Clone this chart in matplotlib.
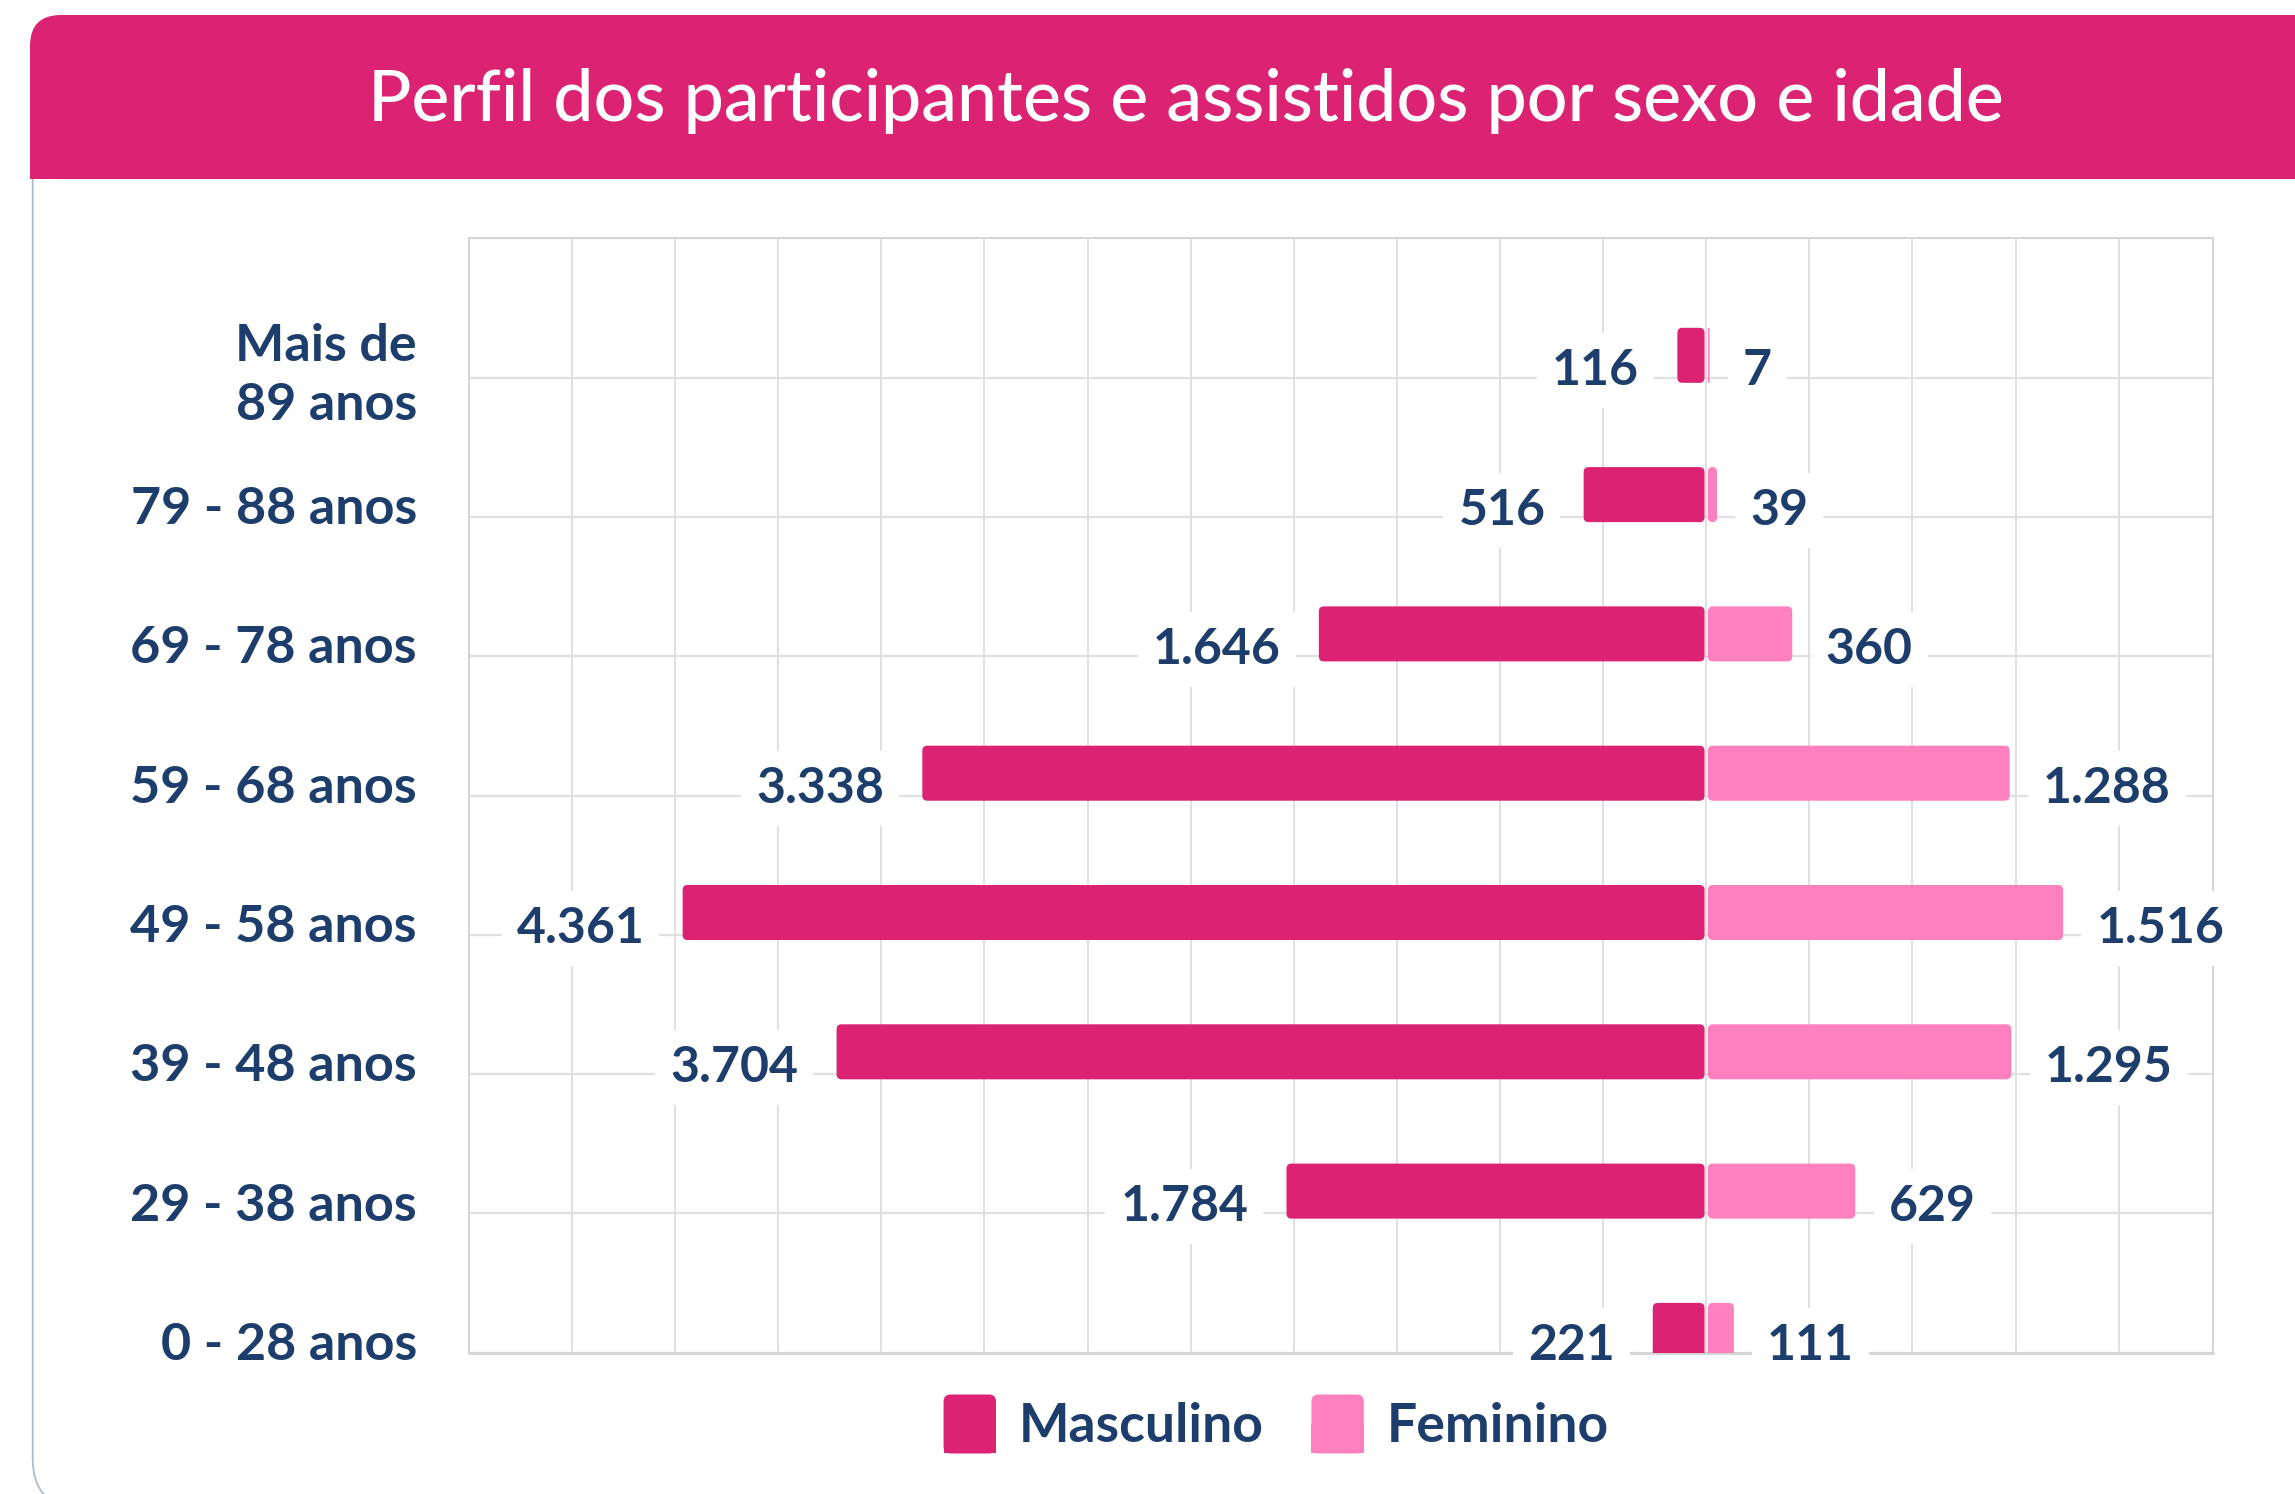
import matplotlib
matplotlib.use("Agg")
import matplotlib.pyplot as plt
from matplotlib.patches import FancyBboxPatch, Rectangle, Patch
from matplotlib.legend_handler import HandlerPatch
import numpy as np

# ---------------- data ----------------
categories = ["Mais de\n89 anos", "79 - 88 anos", "69 - 78 anos", "59 - 68 anos",
              "49 - 58 anos", "39 - 48 anos", "29 - 38 anos", "0 - 28 anos"]
masculino = [116, 516, 1646, 3338, 4361, 3704, 1784, 221]
feminino = [7, 39, 360, 1288, 1516, 1295, 629, 111]
series_names = ["Masculino", "Feminino"]
title = "Perfil dos participantes e assistidos por sexo e idade"

# ---------------- style ----------------
MALE = "#DB2273"
FEMALE = "#FF80BE"
NAVY = "#1D3E6C"
GRID = "#E0E0E0"
BORDER = "#A9BDD3"

W, H, DPI = 2295, 1494, 100
plt.rcParams['font.family'] = ['Lato', 'DejaVu Sans']

fig = plt.figure(figsize=(W / DPI, H / DPI), dpi=DPI)
fig.patch.set_facecolor("white")


def fx(px):
    return px / W


def fy(py):
    return 1 - py / H


def inch(px_x, px_y_top):
    return px_x / DPI, (H - px_y_top) / DPI


# card border (only left side / bottom-left corner visible)
cx, cy = inch(32.7, 1507)
card = FancyBboxPatch((cx, cy), (2700 - 32.7) / DPI, (1507 - 120) / DPI,
                      boxstyle="round,pad=0,rounding_size=0.48",
                      fc="none", ec=BORDER, lw=1.3,
                      transform=fig.dpi_scale_trans, zorder=0)
fig.add_artist(card)

# title bar
tx, ty = inch(30, 179)
bar = FancyBboxPatch((tx, ty), (2700 - 30) / DPI, (179 - 15) / DPI,
                     boxstyle="round,pad=0,rounding_size=0.31",
                     fc=MALE, ec="none", transform=fig.dpi_scale_trans, zorder=1)
fig.add_artist(bar)
sq = Rectangle((tx, ty), 1.0, 0.5, fc=MALE, ec="none",
               transform=fig.dpi_scale_trans, zorder=1)
fig.add_artist(sq)
fig.text(fx(1186), fy(120.7), title, ha="center", va="baseline",
         fontsize=51.6, color="white", fontweight="medium", zorder=2)

# ---------------- axes ----------------
ax_left, ax_right, ax_top, ax_bottom = 468.9, 2213.3, 238.3, 1352.7
ax = fig.add_axes([fx(ax_left), fy(ax_bottom), fx(ax_right - ax_left),
                   (ax_bottom - ax_top) / H])
ax.set_facecolor("none")

y = np.arange(len(categories))
XMIN, XMAX, STEP = -5280, 2164, 440
ax.set_xlim(XMIN, XMAX)
ax.set_ylim(len(categories) - 1 + 0.16, -0.84)

gap = 7
bar_h = 0.395
bm = ax.barh(y, [-v for v in masculino], left=-gap, height=bar_h, color=MALE,
             linewidth=0, zorder=3)
bf = ax.barh(y, feminino, left=gap, height=bar_h, color=FEMALE,
             linewidth=0, zorder=3)

# rounded corners for bars
px_per_x = (ax_right - ax_left) / (XMAX - XMIN)
px_per_y = (ax_bottom - ax_top) / len(categories)
asp = px_per_x / px_per_y
r_units = 5 / px_per_x
for container, col in ((bm, MALE), (bf, FEMALE)):
    for rect in container.patches:
        x0, y0 = rect.get_x(), rect.get_y()
        w, h = rect.get_width(), rect.get_height()
        if w < 0:
            x0, w = x0 + w, -w
        r = min(r_units, w / 2)
        p = FancyBboxPatch((x0, y0), w, h,
                           boxstyle=f"round,pad=0,rounding_size={r}",
                           mutation_aspect=asp, fc=col, ec="none", zorder=3)
        ax.add_patch(p)
        rect.set_visible(False)

# grid
ax.set_xticks(np.arange(XMIN, XMAX, STEP))
ax.set_yticks(y)
ax.set_yticks(np.arange(-1, len(categories)) + 0.16, minor=True)
ax.xaxis.grid(True, which="major", color=GRID, lw=1.4, zorder=0)
ax.yaxis.grid(True, which="minor", color=GRID, lw=1.6, zorder=0)
ax.yaxis.grid(False, which="major")
ax.set_axisbelow(True)
ax.tick_params(axis="x", which="both", length=0, labelbottom=False)
ax.tick_params(axis="y", which="both", length=0, labelleft=False)
for s in ax.spines.values():
    s.set_color("#D4D4D4")
    s.set_linewidth(1.4)
ax.spines["bottom"].set_linewidth(2.0)

# category labels
for yi, cat in zip(y, categories):
    ax.annotate(cat, xy=(0, yi), xycoords=("axes fraction", "data"),
                xytext=(-37.5, -7.5), textcoords="offset points",
                ha="right", va="center_baseline", fontsize=37.5,
                fontweight="bold", color=NAVY, linespacing=1.3,
                annotation_clip=False)


def fmt(v):
    return f"{v:,}".replace(",", ".")


label_dy = 30 / px_per_y
box = dict(boxstyle="square,pad=0.3", fc="white", ec="none")
for yi, v in zip(y, masculino):
    ax.annotate(fmt(v), xy=(-gap - v, yi + label_dy), xytext=(-27.5, 0),
                textcoords="offset points", ha="right", va="baseline",
                fontsize=36, fontweight="bold", color=NAVY, bbox=box,
                zorder=6, annotation_clip=False)
for yi, v in zip(y, feminino):
    ax.annotate(fmt(v), xy=(gap + v, yi + label_dy), xytext=(24, 0),
                textcoords="offset points", ha="left", va="baseline",
                fontsize=36, fontweight="bold", color=NAVY, bbox=box,
                zorder=6, annotation_clip=False)


# ---------------- legend ----------------
class RoundTopHandler(HandlerPatch):
    def create_artists(self, legend, orig_handle, xdescent, ydescent,
                       width, height, fontsize, trans):
        fc = orig_handle.get_facecolor()
        p1 = FancyBboxPatch((-xdescent, -ydescent), width, height,
                            boxstyle="round,pad=0,rounding_size=5",
                            fc=fc, ec="none", transform=trans)
        p2 = Rectangle((-xdescent, -ydescent), width, height / 2,
                       fc=fc, ec="none", transform=trans)
        return [p1, p2]


handles = [Patch(facecolor=MALE), Patch(facecolor=FEMALE)]
leg = fig.legend(handles, series_names, loc="center",
                 bbox_to_anchor=(fx(1276), fy(1424)), ncol=2, frameon=False,
                 handler_map={Patch: RoundTopHandler()},
                 prop={"size": 38.5, "weight": "bold"},
                 handlelength=0.98, handleheight=1.32, handletextpad=0.42,
                 columnspacing=0.9, borderpad=0, borderaxespad=0)
for t in leg.get_texts():
    t.set_color(NAVY)

fig.savefig("out.png", dpi=DPI, facecolor="white")
